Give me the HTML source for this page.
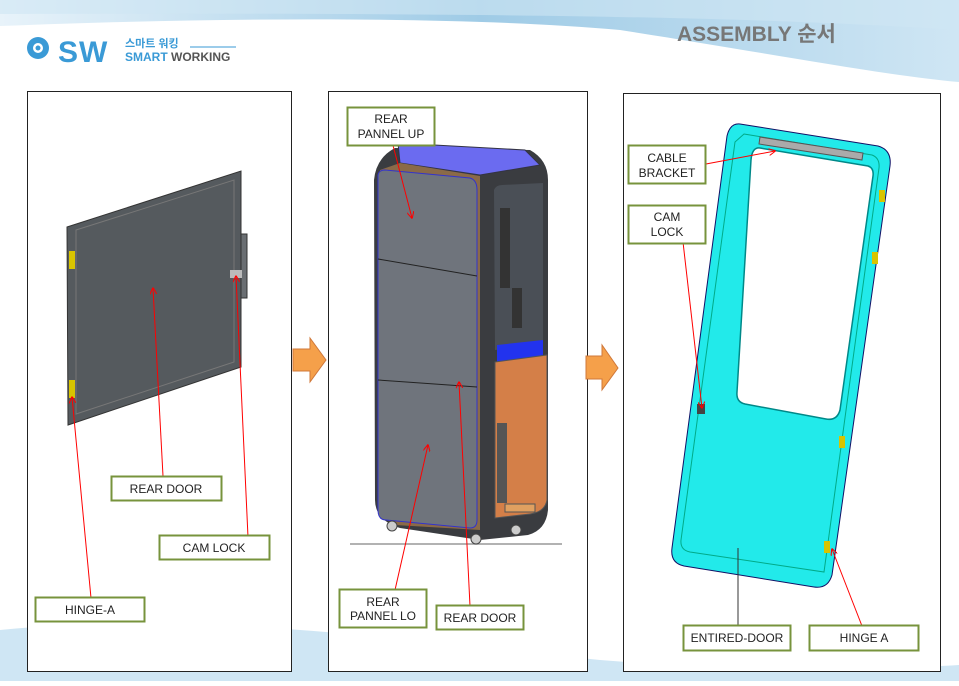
<!DOCTYPE html>
<html><head><meta charset="utf-8"><style>
body{margin:0;width:959px;height:681px;overflow:hidden;background:#fff;font-family:"Liberation Sans","Noto Sans CJK KR",sans-serif}
</style></head><body>
<svg width="959" height="681" viewBox="0 0 959 681" xmlns="http://www.w3.org/2000/svg" font-family="Liberation Sans, Noto Sans CJK KR, sans-serif">
<defs>
<linearGradient id="sky" x1="0" y1="0" x2="1" y2="0"><stop offset="0" stop-color="#e8f3fa"/><stop offset="0.5" stop-color="#9fcbe6"/><stop offset="1" stop-color="#cfe6f4"/></linearGradient>
<marker id="ar" viewBox="0 0 10 10" refX="9" refY="5" markerWidth="7" markerHeight="7" orient="auto"><path d="M0,0 L10,5 L0,10" fill="none" stroke="#f00" stroke-width="1.5"/></marker>
</defs>
<path d="M0,0 H959 V82 C880,75 750,50 620,30 C450,15 200,18 0,26Z" fill="url(#sky)"/>
<path d="M0,0 H959 V30 C800,20 600,12 0,14Z" fill="#cfe6f4" opacity="0.6"/>
<path d="M0,681 V630 C200,610 400,640 600,660 C750,672 880,670 959,665 V681Z" fill="#cfe6f4"/>
<!-- logo -->
<circle cx="38" cy="48" r="11" fill="#3a9ad6"/><circle cx="38" cy="48" r="5" fill="#fff"/><circle cx="38" cy="48" r="2.5" fill="#3a9ad6"/>
<text x="58" y="62" font-size="30" font-weight="bold" fill="#3a9ad6" letter-spacing="1">SW</text>
<text x="125" y="47" font-size="11" font-weight="bold" fill="#3a9ad6">스마트 워킹</text>
<line x1="190" y1="47" x2="236" y2="47" stroke="#3a9ad6" stroke-width="1"/>
<text x="125" y="61" font-size="12" font-weight="bold" fill="#3a9ad6">SMART <tspan fill="#555">WORKING</tspan></text>
<text x="677" y="41" font-size="21" font-weight="bold" fill="#777">ASSEMBLY 순서</text>
<!-- panels -->
<rect x="27.5" y="91.5" width="264" height="580" fill="#fff" stroke="#222"/>
<rect x="328.5" y="91.5" width="259" height="580" fill="#fff" stroke="#222"/>
<rect x="623.5" y="93.5" width="317" height="578" fill="#fff" stroke="#222"/>
<!-- arrows -->
<path d="M293,349 H310 V338 L326,360 L310,382 V371 H293Z" fill="#f5a04a" stroke="#d0783a"/>
<path d="M586,356 H602 V345 L618,368 L602,390 V379 H586Z" fill="#f5a04a" stroke="#d0783a"/>
<!-- left door -->
<polygon points="67,227 241,171 241,367 68,425" fill="#555a5e" stroke="#333"/>
<polygon points="76,230 234,180 234,362 76,414" fill="none" stroke="#777" stroke-width="1"/>
<rect x="241" y="234" width="6" height="64" fill="#6a6e72" stroke="#333"/>
<rect x="230" y="270" width="12" height="8" fill="#bbb"/>
<rect x="69" y="251" width="6" height="18" fill="#d8c400"/><rect x="69" y="380" width="6" height="18" fill="#d8c400"/>
<g stroke="#f00" stroke-width="1" fill="none" marker-end="url(#ar)">
<line x1="163" y1="476" x2="153" y2="288"/>
<line x1="248" y1="537" x2="236" y2="276"/>
<line x1="91" y1="598" x2="72" y2="397"/>
</g>
<g font-size="12" fill="#222" text-anchor="middle">
<rect x="111.5" y="476.5" width="110" height="24" fill="#fff" stroke="#77933c" stroke-width="2"/><text x="166" y="493">REAR DOOR</text>
<rect x="159.5" y="535.5" width="110" height="24" fill="#fff" stroke="#77933c" stroke-width="2"/><text x="214" y="552">CAM LOCK</text>
<rect x="35.5" y="597.5" width="109" height="24" fill="#fff" stroke="#77933c" stroke-width="2"/><text x="90" y="614">HINGE-A</text>
</g>
<!-- middle cabinet -->
<line x1="350" y1="544" x2="562" y2="544" stroke="#999" stroke-width="1.5"/>
<path d="M395,148 L530,150 Q548,160 548,180 L548,510 Q546,530 528,535 L480,540 L400,528 Q375,520 375,500 L374,180 Q376,158 395,148Z" fill="#3a3c40"/>
<path d="M398,143 L525,150 L540,165 L480,175 L400,163 Z" fill="#6b6bf0" stroke="#334"/>
<polygon points="380,170 400,163 480,176 480,530 395,525 380,515" fill="#8a6a48"/>
<path d="M378,175 Q379,170 385,170 L470,178 Q477,180 477,190 L477,520 Q477,528 470,528 L386,520 Q378,520 378,510Z" fill="#6f747c" stroke="#33c" stroke-width="1"/>
<line x1="378" y1="259" x2="477" y2="276" stroke="#222"/><line x1="378" y1="380" x2="477" y2="387" stroke="#222"/>
<path d="M494,190 Q496,185 502,185 L543,183 L543,345 L495,350Z" fill="#4a4f56"/>
<rect x="500" y="208" width="10" height="80" fill="#333"/><rect x="512" y="288" width="10" height="40" fill="#333"/>
<path d="M497,345 L543,340 L543,360 L497,365Z" fill="#2233ee"/>
<path d="M495,362 L547,355 L547,500 Q545,512 530,514 L495,518Z" fill="#d47f48" stroke="#555"/>
<rect x="497" y="423" width="10" height="80" fill="#555"/>
<rect x="505" y="504" width="30" height="8" fill="#e0a060" stroke="#555"/>
<circle cx="392" cy="526" r="5" fill="#ccc" stroke="#444"/><circle cx="476" cy="539" r="5" fill="#ccc" stroke="#444"/><circle cx="516" cy="530" r="5" fill="#ccc" stroke="#444"/>
<g stroke="#f00" stroke-width="1" fill="none" marker-end="url(#ar)">
<line x1="390" y1="134" x2="412" y2="218"/>
<line x1="395" y1="590" x2="428" y2="445"/>
<line x1="470" y1="606" x2="459" y2="382"/>
</g>
<g font-size="12" fill="#222" text-anchor="middle">
<rect x="347.5" y="107.5" width="87" height="38" fill="#fff" stroke="#77933c" stroke-width="2"/><text x="391" y="123">REAR</text><text x="391" y="138">PANNEL UP</text>
<rect x="339.5" y="589.5" width="87" height="38" fill="#fff" stroke="#77933c" stroke-width="2"/><text x="383" y="606">REAR</text><text x="383" y="620">PANNEL LO</text>
<rect x="436.5" y="605.5" width="87" height="24" fill="#fff" stroke="#77933c" stroke-width="2"/><text x="480" y="622">REAR DOOR</text>
</g>
<!-- right door -->
<path d="M740,124 L878,146 Q892,150 890,166 L832,575 Q828,589 814,587 L684,566 Q670,563 672,548 L727,136 Q730,123 740,124Z" fill="#22eaea" stroke="#116" stroke-width="1"/>
<path d="M744,134 L872,155 Q880,158 879,168 L824,572 L690,552 Q680,550 681,540 L735,142Z" fill="none" stroke="#0a8" stroke-width="1"/>
<path d="M760,148 L868,166 Q874,168 873,176 L840,410 Q837,421 826,419 L745,404 Q736,402 737,392 L751,160 Q752,147 760,148Z" fill="#fff" stroke="#088" stroke-width="1.5"/>
<polygon points="760,137 863,153 862,160 759,144" fill="#aaa" stroke="#555"/>
<rect x="879" y="190" width="6" height="12" fill="#d8c400"/><rect x="872" y="252" width="6" height="12" fill="#d8c400"/><rect x="839" y="436" width="6" height="12" fill="#d8c400"/><rect x="824" y="541" width="6" height="12" fill="#d8c400"/>
<rect x="697" y="404" width="8" height="10" fill="#444"/>
<g stroke="#f00" stroke-width="1" fill="none" marker-end="url(#ar)">
<line x1="706" y1="164" x2="775" y2="151"/>
<line x1="683" y1="242" x2="702" y2="408"/>
<line x1="862" y1="626" x2="832" y2="549"/>
</g>
<line x1="738" y1="626" x2="738" y2="548" stroke="#333"/>
<g font-size="12" fill="#222" text-anchor="middle">
<rect x="628.5" y="145.5" width="77" height="38" fill="#fff" stroke="#77933c" stroke-width="2"/><text x="667" y="162">CABLE</text><text x="667" y="177">BRACKET</text>
<rect x="628.5" y="205.5" width="77" height="38" fill="#fff" stroke="#77933c" stroke-width="2"/><text x="667" y="221">CAM</text><text x="667" y="236">LOCK</text>
<rect x="683.5" y="625.5" width="107" height="25" fill="#fff" stroke="#77933c" stroke-width="2"/><text x="737" y="642">ENTIRED-DOOR</text>
<rect x="809.5" y="625.5" width="109" height="25" fill="#fff" stroke="#77933c" stroke-width="2"/><text x="864" y="642">HINGE A</text>
</g>
</svg>
</body></html>
